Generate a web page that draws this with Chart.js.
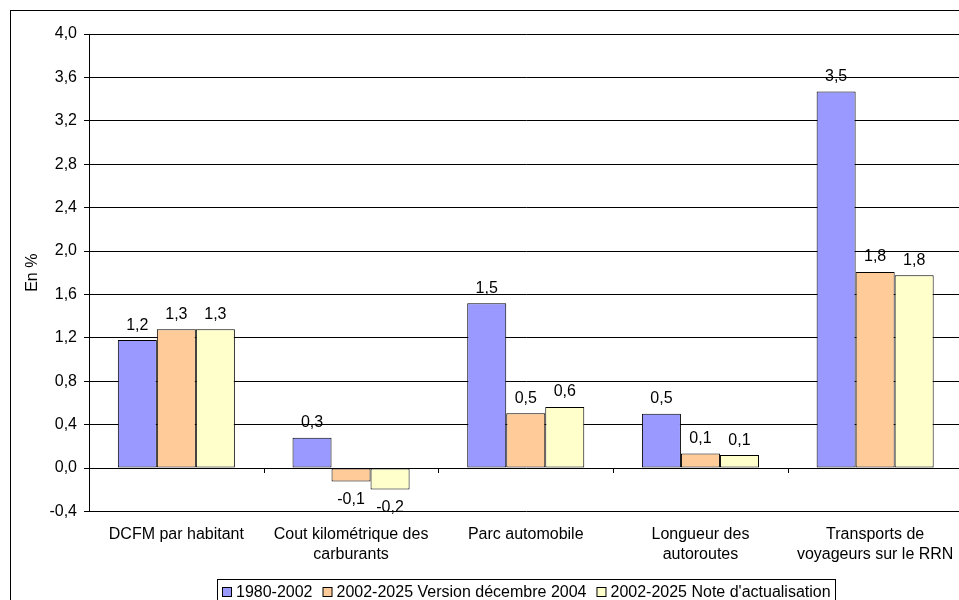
<!DOCTYPE html>
<html>
<head>
<meta charset="utf-8">
<title>Taux de croissance annuels moyens</title>
<script src="https://cdn.jsdelivr.net/npm/chart.js@4/dist/chart.umd.min.js"></script>
<style>
  html, body { margin: 0; padding: 0; background: #fff; overflow: hidden; width: 959px; height: 600px; }
  #wrap { position: absolute; left: 0; top: 0; width: 975px; height: 612px; }
</style>
</head>
<body>
<div id="wrap"><canvas id="chart" width="975" height="612"></canvas></div>
<script>
// Categories (multi-line labels as arrays)
const categories = [
  "DCFM par habitant",
  ["Cout kilométrique des", "carburants"],
  "Parc automobile",
  ["Longueur des", "autoroutes"],
  ["Transports de", "voyageurs sur le RRN"]
];

// Series names
const seriesNames = [
  "1980-2002",
  "2002-2025 Version décembre 2004",
  "2002-2025 Note d'actualisation"
];

// Average annual growth, in %
const values1980_2002 = [1.18, 0.28, 1.52, 0.50, 3.47];
const valuesVersionDec2004 = [1.28, -0.123, 0.505, 0.135, 1.808];
const valuesNoteActualisation = [1.28, -0.197, 0.563, 0.12, 1.778];

// Value axis range and step
const yMin = -0.4;
const yMax = 4.0;
const yStep = 0.4;

const FONT = "'Liberation Sans', Arial, Helvetica, sans-serif";
const fmt = v => (Math.abs(v) < 1e-9 ? 0 : v).toFixed(1).replace('.', ',');

Chart.defaults.font.family = FONT;
Chart.defaults.color = '#000';

const decorations = {
  id: 'decorations',
  beforeDraw(chart) {
    const c = chart.ctx;
    c.save();
    c.fillStyle = '#fff';
    c.fillRect(0, 0, chart.width, chart.height);
    c.strokeStyle = '#000';
    c.lineWidth = 1;
    c.strokeRect(10.5, 10.5, chart.width + 40, chart.height + 40);
    c.restore();
  },
  afterDatasetsDraw(chart) {
    const c = chart.ctx;
    c.save();
    c.font = `16px ${FONT}`;
    c.fillStyle = '#000';
    c.textAlign = 'center';
    c.textBaseline = 'alphabetic';
    chart.data.datasets.forEach((ds, di) => {
      const meta = chart.getDatasetMeta(di);
      meta.data.forEach((bar, i) => {
        const v = ds.data[i];
        const y = v >= 0 ? bar.y - 10.5 : bar.y + 22.5;
        c.fillText(fmt(v), bar.x, y);
      });
    });
    c.restore();
  },
  afterDraw(chart) {
    const c = chart.ctx;
    const xs = chart.scales.x;
    const ys = chart.scales.y;
    const area = chart.chartArea;
    c.save();
    // category tick marks on the zero line
    const y0 = Math.round(ys.getPixelForValue(0));
    c.strokeStyle = '#000';
    c.lineWidth = 1;
    c.beginPath();
    for (let i = 1; i < chart.data.labels.length; i++) {
      const x = Math.round((xs.getPixelForValue(i - 1) + xs.getPixelForValue(i)) / 2) + 0.5;
      c.moveTo(x, y0);
      c.lineTo(x, y0 + 5);
    }
    c.stroke();

    // framed legend below the category labels
    c.font = `16px ${FONT}`;
    const box = 9, gapText = 5, gapItems = 10, padL = 5, padR = 4;
    const items = chart.data.datasets.map(ds => ({
      label: ds.label, color: ds.backgroundColor, w: c.measureText(ds.label).width
    }));
    let inner = 0;
    items.forEach((it, k) => { inner += box + gapText + it.w + (k ? gapItems : 0); });
    const frameW = inner + padL + padR;
    const left = Math.round((area.left + area.right) / 2 - frameW / 2);
    const top = Math.round(area.bottom + 67.5);
    c.strokeStyle = '#000';
    c.strokeRect(left + 0.5, top + 0.5, Math.round(frameW), 40);
    let x = left + padL;
    c.textAlign = 'left';
    c.textBaseline = 'alphabetic';
    items.forEach(it => {
      c.fillStyle = it.color;
      c.fillRect(x + 0.5, top + 8.5, box, box);
      c.strokeRect(x + 0.5, top + 8.5, box, box);
      c.fillStyle = '#000';
      c.fillText(it.label, x + box + gapText, top + 17.5);
      x += box + gapText + it.w + gapItems;
    });
    c.restore();
  }
};

new Chart(document.getElementById('chart'), {
  type: 'bar',
  data: {
    labels: categories,
    datasets: [
      { label: seriesNames[0], data: values1980_2002, backgroundColor: '#9999FF' },
      { label: seriesNames[1], data: valuesVersionDec2004, backgroundColor: '#FFCC99' },
      { label: seriesNames[2], data: valuesNoteActualisation, backgroundColor: '#FFFFCC' }
    ]
  },
  options: {
    responsive: false,
    animation: false,
    devicePixelRatio: 1,
    layout: { autoPadding: false, padding: { left: 0, top: 34, right: 12.5, bottom: 0 } },
    datasets: {
      bar: { borderColor: '#000', borderWidth: 1, borderSkipped: false, barPercentage: 1, categoryPercentage: 0.67 }
    },
    plugins: { legend: { display: false }, tooltip: { enabled: false } },
    scales: {
      x: {
        grid: { display: false, drawTicks: false },
        border: { display: false },
        ticks: { font: { size: 16, lineHeight: 1.25 }, padding: 13.5, maxRotation: 0, autoSkip: false, color: '#000' },
        afterFit: s => { s.height = 612 - 511.5; }
      },
      y: {
        min: yMin,
        max: yMax,
        ticks: { stepSize: yStep, font: { size: 16 }, padding: 7, color: '#000', callback: v => fmt(v) },
        grid: { color: '#000', lineWidth: 1, drawTicks: true, tickLength: 5, tickColor: '#000' },
        border: { display: true, color: '#000', width: 1 },
        title: { display: true, text: 'En %', font: { size: 16 }, color: '#000', padding: { top: 23.4, bottom: 0 } },
        afterFit: s => { s.width = 89; }
      }
    }
  },
  plugins: [decorations]
});
</script>
</body>
</html>
